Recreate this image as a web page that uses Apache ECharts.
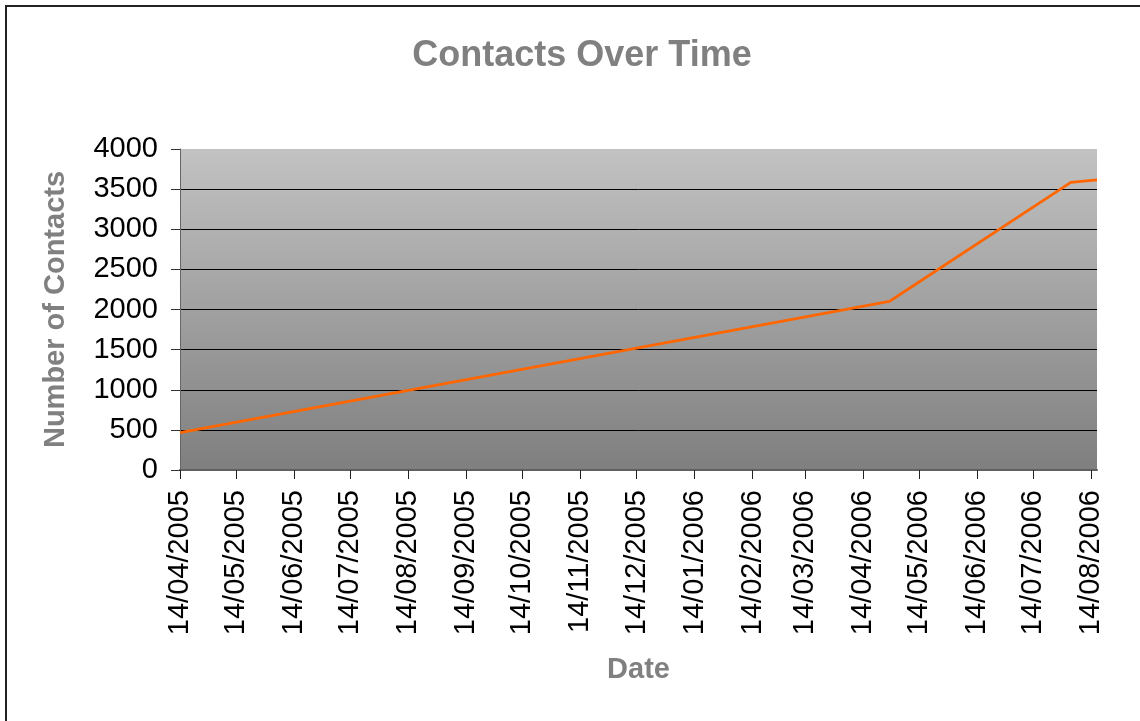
<!DOCTYPE html>
<html>
<head>
<meta charset="utf-8">
<script src="https://cdn.jsdelivr.net/npm/echarts@6/dist/echarts.min.js"></script>
<style>
html,body{margin:0;padding:0;background:#fff;}
#chart{width:1140px;height:721px;}
</style>
</head>
<body>
<div id="chart"></div>
<script>
// Data
var dates = ['2005-04-14', '2006-04-28', '2006-08-03', '2006-08-17'];
var contacts = [465, 2100, 3585, 3615];
var tickDates = ['14/04/2005','14/05/2005','14/06/2005','14/07/2005','14/08/2005','14/09/2005',
  '14/10/2005','14/11/2005','14/12/2005','14/01/2006','14/02/2006','14/03/2006',
  '14/04/2006','14/05/2006','14/06/2006','14/07/2006','14/08/2006'];
var yTicks = [0, 500, 1000, 1500, 2000, 2500, 3000, 3500, 4000];

var DAY = 86400000;
function isoToDay(s) { var p = s.split('-'); return Date.UTC(+p[0], +p[1] - 1, +p[2]) / DAY; }
function dmyToDay(s) { var p = s.split('/'); return Date.UTC(+p[2], +p[1] - 1, +p[0]) / DAY; }
function pad(n) { return (n < 10 ? '0' : '') + n; }
function fmt(dayNum) { var d = new Date(Math.round(dayNum) * DAY); return pad(d.getUTCDate()) + '/' + pad(d.getUTCMonth() + 1) + '/' + d.getUTCFullYear(); }

var tickDays = tickDates.map(dmyToDay);
var seriesData = dates.map(function (d, i) { return [isoToDay(d), contacts[i]]; });

var FONT = '"Liberation Sans", Arial, sans-serif';
var chart = echarts.init(document.getElementById('chart'), null, {renderer: 'canvas'});
chart.setOption({
  animation: false,
  title: {
    text: 'Contacts Over Time',
    left: 577, top: 33, textAlign: 'center',
    textStyle: {fontFamily: FONT, fontWeight: 'bold', fontSize: 36, color: '#808080'}
  },
  graphic: [{
    type: 'rect', shape: {x: 6, y: 6, width: 1300, height: 900},
    style: {fill: 'none', stroke: '#222', lineWidth: 2}, silent: true, z: 100
  }],
  grid: {
    left: 180, right: 43, top: 149, bottom: 251,
    show: true, borderWidth: 0,
    backgroundColor: {
      type: 'linear', x: 0, y: 0, x2: 0, y2: 1,
      colorStops: [{offset: 0, color: '#c2c2c2'}, {offset: 1, color: '#7f7f7f'}]
    }
  },
  xAxis: {
    type: 'value',
    min: tickDays[0],
    max: seriesData[seriesData.length - 1][0],
    name: 'Date', nameLocation: 'middle', nameGap: 185,
    nameTextStyle: {fontFamily: FONT, fontWeight: 'bold', fontSize: 29, color: '#808080'},
    axisLine: {show: true, lineStyle: {color: '#606060', width: 2}},
    axisTick: {show: true, length: 9, customValues: tickDays, lineStyle: {color: '#222'}},
    axisLabel: {
      customValues: tickDays, rotate: 90, margin: 20,
      fontFamily: FONT, fontSize: 29, color: '#000',
      formatter: function (v) { return fmt(v); }
    },
    splitLine: {show: false}
  },
  yAxis: {
    type: 'value', min: yTicks[0], max: yTicks[yTicks.length - 1], interval: 500,
    name: 'Number of Contacts', nameLocation: 'middle', nameGap: 110, nameRotate: 90,
    nameTextStyle: {fontFamily: FONT, fontWeight: 'bold', fontSize: 29, color: '#808080'},
    axisLine: {show: true, lineStyle: {color: '#666', width: 1}},
    axisTick: {show: true, length: 9, lineStyle: {color: '#333'}},
    axisLabel: {margin: 22, fontFamily: FONT, fontSize: 29, color: '#000',
      formatter: function (v) { return String(v); }},
    splitLine: {show: true, showMaxLine: false, lineStyle: {color: '#000', width: 1}}
  },
  series: [{
    type: 'line',
    data: seriesData,
    showSymbol: false,
    symbol: 'none',
    lineStyle: {color: '#ff6600', width: 2.8},
    clip: false
  }]
});
</script>
</body>
</html>
